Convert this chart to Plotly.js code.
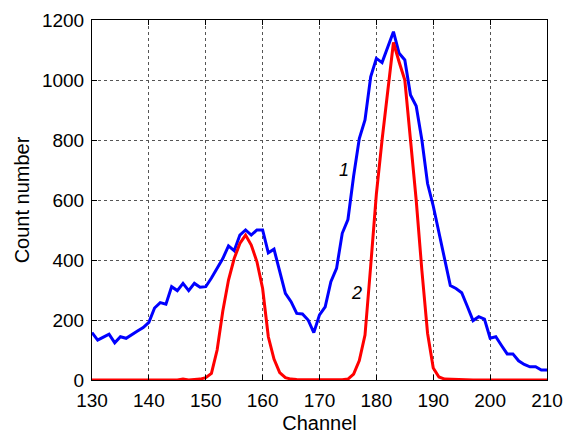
<!DOCTYPE html>
<html>
<head>
<meta charset="utf-8">
<script src="https://cdn.plot.ly/plotly-3.0.1.min.js"></script>
<style>html,body{margin:0;padding:0;background:#fff;}#chart{width:566px;height:434px;}</style>
</head>
<body>
<div id="chart"></div>
<script>
var channels = [130,131,132,133,134,135,136,137,138,139,140,141,142,143,144,145,146,147,148,149,150,151,152,153,154,155,156,157,158,159,160,161,162,163,164,165,166,167,168,169,170,171,172,173,174,175,176,177,178,179,180,181,182,183,184,185,186,187,188,189,190,191,192,193,194,195,196,197,198,199,200,201,202,203,204,205,206,207,208,209,210];

var spectrum1 = [158,133,143,153,124,144,139,152,163,175,192,240,258,253,311,298,322,298,322,309,311,340,375,405,447,431,483,500,483,500,500,424,436,360,289,261,222,220,200,158,217,244,328,372,489,535,680,805,867,1011,1072,1058,1110,1161,1089,1067,950,913,800,655,580,490,395,315,305,291,245,198,211,203,139,144,115,87,87,64,52,44,44,33,33];

var spectrum2 = [0,0,0,0,0,0,0,0,0,0,0,0,0,0,0,0,3,0,2,3,8,22,100,230,333,405,455,483,450,394,305,144,70,25,8,3,2,2,0,0,0,0,0,0,1,3,20,65,150,380,620,800,970,1125,1060,1000,800,600,365,156,40,10,3,2,1,0,0,0,0,0,0,0,0,0,0,0,0,0,0,0,0];

var curveLabels = ["1", "2"];
var labelX = [174.3, 176.5];
var labelY = [700, 291];

var xTicks = [130,140,150,160,170,180,190,200,210];
var yTicks = [0,200,400,600,800,1000,1200];

var FONT = 'Liberation Sans, Arial, sans-serif';

var traces = [
  {x: channels, y: spectrum1, type: 'scatter', mode: 'lines', line: {color: '#0000ff', width: 3}, hoverinfo: 'x+y'},
  {x: channels, y: spectrum2, type: 'scatter', mode: 'lines', line: {color: '#ff0000', width: 3}, hoverinfo: 'x+y'}
];

var annotations = curveLabels.map(function (t, i) {
  return {x: labelX[i], y: labelY[i], text: '<i>' + t + '</i>', showarrow: false,
          font: {family: FONT, size: 18, color: '#000'}};
});

var axisCommon = {
  showline: true, linecolor: '#000', linewidth: 1, mirror: 'ticks',
  ticks: 'inside', ticklen: 5, tickcolor: '#000', tickwidth: 1,
  showgrid: true, gridcolor: '#555', griddash: 'dot', gridwidth: 1,
  zeroline: false, automargin: false,
  tickfont: {family: FONT, size: 19, color: '#000'}
};

var layout = {
  width: 566, height: 434,
  margin: {l: 92, r: 19, t: 20, b: 54},
  paper_bgcolor: '#fff', plot_bgcolor: '#fff',
  showlegend: false,
  xaxis: Object.assign({}, axisCommon, {
    range: [130, 210], tickmode: 'array', tickvals: xTicks, ticktext: xTicks.map(String),
    ticklabelstandoff: 3,
    title: {text: 'Channel', font: {family: FONT, size: 20, color: '#000'}, standoff: 6}
  }),
  yaxis: Object.assign({}, axisCommon, {
    range: [0, 1200], tickmode: 'array', tickvals: yTicks, ticktext: yTicks.map(String),
    ticklabelstandoff: 3,
    title: {text: 'Count number', font: {family: FONT, size: 20, color: '#000'}, standoff: 6}
  }),
  annotations: annotations
};

Plotly.newPlot('chart', traces, layout, {displayModeBar: false, staticPlot: true});
</script>
</body>
</html>
